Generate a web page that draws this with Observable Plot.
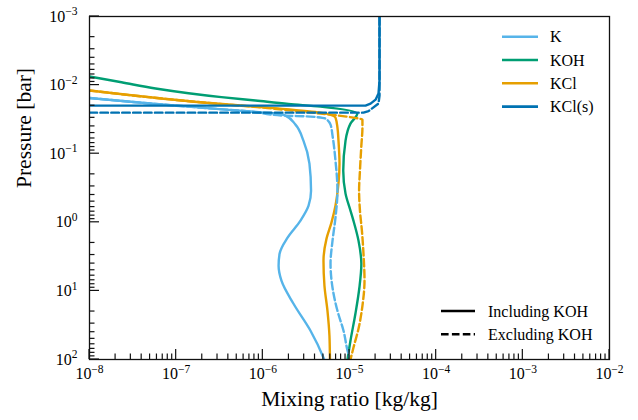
<!DOCTYPE html>
<html><head><meta charset="utf-8">
<script src="https://cdn.jsdelivr.net/npm/d3@7"></script>
<script src="https://cdn.jsdelivr.net/npm/@observablehq/plot@0.6"></script>
<style>
html,body{margin:0;padding:0;background:#fff}
#chart svg, #chart svg text{font-family:"Liberation Serif","DejaVu Serif",serif}
</style>
</head><body><div id="chart"></div>
<script>
// ---- data (mixing ratio in kg/kg, pressure in bar) ----
const species = ["K", "KOH", "KCl", "KCl(s)"];
const colors = ["#56B4E9", "#009E73", "#E69F00", "#0072B2"];
const styleLabels = ["Including KOH", "Excluding KOH"];

const K_incl_x = [1.00e-8, 5.06e-8, 1.91e-7, 7.21e-7, 1.40e-6, 1.82e-6, 2.38e-6, 2.94e-6, 3.45e-6, 3.60e-6, 3.37e-6, 2.72e-6, 1.93e-6, 1.56e-6, 1.52e-6, 1.64e-6, 2.26e-6, 3.55e-6, 5.01e-6, 5.10e-6];
const K_incl_p = [1.545e-2, 1.858e-2, 2.13e-2, 2.43e-2, 2.60e-2, 2.78e-2, 3.77e-2, 6.44e-2, 0.140, 0.346, 0.573, 0.946, 1.67, 2.87, 4.30, 7.11, 15.4, 38.1, 94.4, 100];
const K_excl_x = [1.00e-8, 5.06e-8, 1.91e-7, 7.21e-7, 1.73e-6, 3.55e-6, 5.28e-6, 6.04e-6, 6.37e-6, 6.89e-6, 7.26e-6, 6.89e-6, 6.37e-6, 6.04e-6, 6.37e-6, 7.26e-6, 8.53e-6, 9.73e-6, 1.026e-5];
const K_excl_p = [1.545e-2, 1.858e-2, 2.13e-2, 2.43e-2, 2.78e-2, 2.88e-2, 3.08e-2, 3.77e-2, 5.45e-2, 0.126, 0.346, 0.857, 1.85, 4.02, 9.0, 19.5, 38.1, 82.6, 100];

const KOH_incl_x = [1.00e-8, 2.34e-8, 5.78e-8, 1.39e-7, 3.33e-7, 8.22e-7, 1.98e-6, 4.62e-6, 1.23e-5, 1.026e-5, 9.00e-6, 8.47e-6, 9.00e-6, 1.026e-5, 1.11e-5, 1.27e-5, 1.37e-5, 1.30e-5, 1.17e-5, 1.026e-5, 9.48e-6];
const KOH_incl_p = [7.50e-3, 9.10e-3, 1.122e-2, 1.315e-2, 1.50e-2, 1.68e-2, 1.88e-2, 2.06e-2, 2.60e-2, 3.64e-2, 6.44e-2, 0.177, 0.382, 0.676, 0.946, 1.85, 4.02, 9.0, 21.5, 53.3, 100];

const KCl_incl_x = [1.00e-8, 3.22e-8, 1.91e-7, 1.13e-6, 4.62e-6, 6.89e-6, 7.26e-6, 7.46e-6, 7.67e-6, 7.46e-6, 6.89e-6, 6.19e-6, 5.43e-6, 5.01e-6, 5.14e-6, 5.57e-6, 5.87e-6, 5.95e-6];
const KCl_incl_p = [1.20e-2, 1.42e-2, 1.78e-2, 2.13e-2, 2.52e-2, 2.98e-2, 4.16e-2, 6.44e-2, 0.140, 0.274, 0.573, 1.01, 1.73, 3.63, 8.41, 19.5, 45.1, 100];
const KCl_excl_x = [1.00e-8, 3.22e-8, 1.91e-7, 1.13e-6, 4.62e-6, 1.11e-5, 1.41e-5, 1.41e-5, 1.37e-5, 1.32e-5, 1.29e-5, 1.32e-5, 1.39e-5, 1.45e-5, 1.49e-5, 1.41e-5, 1.27e-5, 1.11e-5, 1.026e-5];
const KCl_excl_p = [1.20e-2, 1.42e-2, 1.78e-2, 2.16e-2, 2.60e-2, 2.98e-2, 3.18e-2, 4.16e-2, 7.62e-2, 0.177, 0.346, 0.676, 1.32, 2.87, 7.11, 16.5, 35.6, 67.5, 100];

const KCls_incl_x = [1.00e-8, 1.53e-5, 1.75e-5, 2.00e-5, 2.16e-5, 2.22e-5, 2.22e-5];
const KCls_incl_p = [1.99e-2, 1.99e-2, 1.86e-2, 1.63e-2, 1.33e-2, 8.59e-3, 1.00e-3];
const KCls_excl_x = [1.00e-8, 1.45e-5, 1.66e-5, 2.16e-5, 2.22e-5, 2.22e-5];
const KCls_excl_p = [2.52e-2, 2.52e-2, 2.39e-2, 1.86e-2, 1.42e-2, 1.00e-3];

const xTicks = [1e-8, 1e-7, 1e-6, 1e-5, 1e-4, 1e-3, 1e-2];
const xTickLabels = ["10^−8", "10^−7", "10^−6", "10^−5", "10^−4", "10^−3", "10^−2"];
const yTicks = [1e-3, 1e-2, 1e-1, 1, 10, 100];
const yTickLabels = ["10^−3", "10^−2", "10^−1", "10^0", "10^1", "10^2"];

const xLabel = "Mixing ratio [kg/kg]";
const yLabel = "Pressure [bar]";

// ---- build tables ----
function rows(sp, xs, ps) { return xs.map((x, i) => ({species: sp, x, p: ps[i]})); }
const inclGas = [
  ...rows("K", K_incl_x, K_incl_p),
  ...rows("KOH", KOH_incl_x, KOH_incl_p),
  ...rows("KCl", KCl_incl_x, KCl_incl_p)
];
const exclGas = [
  ...rows("K", K_excl_x, K_excl_p),
  ...rows("KCl", KCl_excl_x, KCl_excl_p)
];
const inclSolid = rows("KCl(s)", KCls_incl_x, KCls_incl_p);
const exclSolid = rows("KCl(s)", KCls_excl_x, KCls_excl_p);

const FONT = '"Liberation Serif","DejaVu Serif",serif';
const DASH = "7.6,3.3";
const LW = 2.4;

const plot = Plot.plot({
  width: 638, height: 420,
  marginLeft: 89, marginRight: 29, marginTop: 16, marginBottom: 61,
  style: {fontFamily: FONT, background: "#fff", color: "#000", overflow: "visible"},
  x: {type: "log", domain: [1e-8, 1e-2]},
  y: {type: "log", domain: [1e2, 1e-3]},
  color: {domain: species, range: colors},
  marks: [
    Plot.line(inclGas, {x: "x", y: "p", z: "species", stroke: "species", strokeWidth: LW, curve: "monotone-y", clip: true}),
    Plot.line(exclGas, {x: "x", y: "p", z: "species", stroke: "species", strokeWidth: LW, strokeDasharray: DASH, curve: "monotone-y", clip: true}),
    Plot.line(inclSolid, {x: "x", y: "p", stroke: "species", strokeWidth: LW, clip: true}),
    Plot.line(exclSolid, {x: "x", y: "p", stroke: "species", strokeWidth: LW, strokeDasharray: DASH, clip: true}),
    Plot.frame({stroke: "#111", strokeWidth: 1.3}),
    Plot.axisX({ticks: xTicks, tickSize: 0, tickPadding: 8, fontSize: 16, label: null,
      tickFormat: d => xTickLabels[xTicks.indexOf(d)]}),
    Plot.axisY({ticks: yTicks, tickSize: 0, tickPadding: 12, fontSize: 16, label: null,
      tickFormat: d => yTickLabels[yTicks.indexOf(d)]}),
    Plot.text([xLabel], {text: d => d, frameAnchor: "bottom", dy: 46, fontSize: 21.5}),
    Plot.text([yLabel], {text: d => d, frameAnchor: "left", rotate: -90, dx: -65, fontSize: 21.5})
  ]
});

document.getElementById("chart").appendChild(plot);

const ns = "http://www.w3.org/2000/svg";
// superscripts in tick labels
plot.querySelectorAll('g[aria-label$="tick label"] text').forEach(t => {
  const s = t.textContent;
  if (!s.includes("^")) return;
  const [b, e] = s.split("^");
  t.textContent = "";
  const t1 = document.createElementNS(ns, "tspan"); t1.textContent = b;
  const t2 = document.createElementNS(ns, "tspan"); t2.textContent = e;
  t2.setAttribute("dy", "-0.55em"); t2.setAttribute("font-size", "72%");
  t.appendChild(t1); t.appendChild(t2);
});

// inward ticks drawn with Plot's scales
const sx = plot.scale("x"), sy = plot.scale("y");
const left = 89, bottom = 420 - 61;
const g = d3.select(plot).append("g").attr("stroke", "#111").attr("stroke-width", 1.2);
function minors(lo, hi) { const out = []; for (let e = lo; e < hi; e++) for (let m = 2; m <= 9; m++) out.push(m * Math.pow(10, e)); return out; }
xTicks.forEach(v => { const X = sx.apply(v); g.append("line").attr("x1", X).attr("x2", X).attr("y1", bottom).attr("y2", bottom - 10); });
minors(-8, -2).forEach(v => { const X = sx.apply(v); g.append("line").attr("x1", X).attr("x2", X).attr("y1", bottom).attr("y2", bottom - 5.5); });
yTicks.forEach(v => { const Y = sy.apply(v); g.append("line").attr("x1", left).attr("x2", left + 10).attr("y1", Y).attr("y2", Y); });
minors(-3, 2).forEach(v => { const Y = sy.apply(v); g.append("line").attr("x1", left).attr("x2", left + 5.5).attr("y1", Y).attr("y2", Y); });

// legends
const lg = d3.select(plot).append("g").attr("font-family", FONT).attr("font-size", 16).attr("text-anchor", "start");
species.forEach((s, i) => {
  const y = 36.7 + i * 23.3;
  lg.append("line").attr("x1", 502).attr("x2", 538).attr("y1", y).attr("y2", y).attr("stroke", colors[i]).attr("stroke-width", 2.6);
  lg.append("text").attr("x", 550).attr("y", y).attr("dy", "0.35em").attr("text-anchor", "start").text(s);
});
styleLabels.forEach((s, i) => {
  const y = 311 + i * 23.3;
  const l = lg.append("line").attr("x1", 441).attr("x2", 475).attr("y1", y).attr("y2", y).attr("stroke", "#000").attr("stroke-width", 2.6);
  if (i === 1) l.attr("stroke-dasharray", DASH);
  lg.append("text").attr("x", 488).attr("y", y).attr("dy", "0.35em").attr("text-anchor", "start").text(s);
});
</script>
</body></html>
